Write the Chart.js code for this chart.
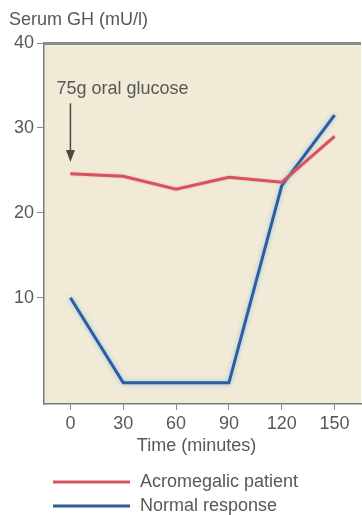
<!DOCTYPE html>
<html>
<head>
<meta charset="utf-8">
<script src="https://cdn.jsdelivr.net/npm/chart.js@4"></script>
<style>
  html, body { margin: 0; padding: 0; background: #fff; }
  #wrap { width: 362px; height: 515px; }
</style>
</head>
<body>
<div id="wrap"><canvas id="gh"></canvas></div>
<script>
// data
var times = [0, 30, 60, 90, 120, 150];
var acromegalic = [24.6, 24.3, 22.8, 24.2, 23.6, 29.0];
var normal = [10, 0, 0, 0, 23.2, 31.5];
var xTicks = [0, 30, 60, 90, 120, 150];
var yTicks = [10, 20, 30, 40];
var seriesNames = ["Acromegalic patient", "Normal response"];
var yTitle = "Serum GH (mU/l)";
var xTitle = "Time (minutes)";
var glucoseNote = "75g oral glucose";

var FONT = "'Liberation Sans', Arial, sans-serif";
var TEXT = "#585858";
var RED = "#d8525e";
var BLUE = "#2f5c9c";

var decor = {
    id: "decor",
    beforeDraw: function (chart) {
        var a = chart.chartArea, ctx = chart.ctx;
        ctx.save();
        ctx.fillStyle = "#f0ead6";
        ctx.fillRect(a.left, a.top, a.right - a.left, a.bottom - a.top);
        ctx.restore();
    },
    beforeDatasetDraw: function (chart, args) {
        var ctx = chart.ctx;
        ctx.save();
        if (args.index === 1) {
            ctx.shadowColor = "rgba(120, 190, 235, 0.9)";
            ctx.shadowBlur = 4;
        } else {
            ctx.shadowColor = "rgba(240, 150, 160, 0.7)";
            ctx.shadowBlur = 2;
        }
    },
    afterDatasetDraw: function (chart) {
        chart.ctx.restore();
    },
    afterDraw: function (chart) {
        var a = chart.chartArea, ctx = chart.ctx;
        var xs = chart.scales.x, ys = chart.scales.y;
        ctx.save();
        // heavy top border
        ctx.fillStyle = "#8a8a8a";
        ctx.fillRect(a.left - 1, a.top - 1, a.right - a.left + 1, 3);

        ctx.fillStyle = TEXT;
        ctx.font = "18px " + FONT;
        ctx.textBaseline = "middle";
        ctx.textAlign = "left";
        ctx.fillText(yTitle, 9, 20);

        ctx.textAlign = "center";
        ctx.fillText(xTitle, (a.left + a.right) / 2 - 6, 446);

        // glucose arrow
        var ax = xs.getPixelForValue(0);
        ctx.textAlign = "left";
        ctx.fillText(glucoseNote, ax - 14, 89);
        var y1 = ys.getPixelForValue(32.9), y2 = ys.getPixelForValue(26.0);
        ctx.strokeStyle = "#4a4a3c";
        ctx.fillStyle = "#4a4a3c";
        ctx.lineWidth = 1.5;
        ctx.beginPath();
        ctx.moveTo(ax, y1);
        ctx.lineTo(ax, y2 - 10);
        ctx.stroke();
        ctx.beginPath();
        ctx.moveTo(ax - 4.5, y2 - 12);
        ctx.lineTo(ax + 4.5, y2 - 12);
        ctx.lineTo(ax, y2);
        ctx.closePath();
        ctx.fill();

        // legend
        var rows = [482, 506];
        chart.data.datasets.forEach(function (ds, i) {
            ctx.strokeStyle = ds.borderColor;
            ctx.lineWidth = 3;
            ctx.beginPath();
            ctx.moveTo(53, rows[i]);
            ctx.lineTo(130, rows[i]);
            ctx.stroke();
            ctx.fillStyle = TEXT;
            ctx.textAlign = "left";
            ctx.fillText(ds.label, 140, rows[i]);
        });
        ctx.restore();
    }
};

document.addEventListener("DOMContentLoaded", function () {
    var ctx = document.getElementById("gh").getContext("2d");
    new Chart(ctx, {
        type: "line",
        data: {
            datasets: [
                {
                    label: seriesNames[0],
                    data: times.map(function (t, i) { return { x: t, y: acromegalic[i] }; }),
                    borderColor: RED,
                    borderWidth: 3,
                    tension: 0,
                    pointRadius: 0,
                    fill: false,
                },
                {
                    label: seriesNames[1],
                    data: times.map(function (t, i) { return { x: t, y: normal[i] }; }),
                    borderColor: BLUE,
                    borderWidth: 3,
                    tension: 0,
                    pointRadius: 0,
                    fill: false,
                },
            ],
        },
        options: {
            responsive: true,
            maintainAspectRatio: false,
            animation: false,
            layout: { padding: { top: 43, right: 1, left: 0, bottom: 0 } },
            scales: {
                x: {
                    type: "linear",
                    min: -15,
                    max: 165,
                    afterBuildTicks: function (scale) {
                        scale.ticks = xTicks.map(function (v) { return { value: v }; });
                    },
                    afterFit: function (scale) { scale.height = 111; },
                    grid: {
                        drawOnChartArea: false,
                        drawTicks: true,
                        tickLength: 6,
                        tickColor: "#8a8a8a",
                    },
                    border: { display: true, color: "#7a7a7a", width: 1.5 },
                    ticks: {
                        padding: 3,
                        color: TEXT,
                        font: { family: FONT, size: 18 },
                        maxRotation: 0,
                    },
                },
                y: {
                    min: -2.5,
                    max: 40,
                    afterBuildTicks: function (scale) {
                        scale.ticks = yTicks.map(function (v) { return { value: v }; });
                    },
                    afterFit: function (scale) { scale.width = 44; },
                    grid: {
                        drawOnChartArea: false,
                        drawTicks: true,
                        tickLength: 7,
                        tickColor: "#8a8a8a",
                    },
                    border: { display: true, color: "#7a7a7a", width: 1.5 },
                    ticks: {
                        padding: 3,
                        color: TEXT,
                        font: { family: FONT, size: 18 },
                    },
                },
            },
            plugins: {
                legend: { display: false },
                tooltip: { enabled: false },
            },
        },
        plugins: [decor],
    });
});
</script>
</body>
</html>
